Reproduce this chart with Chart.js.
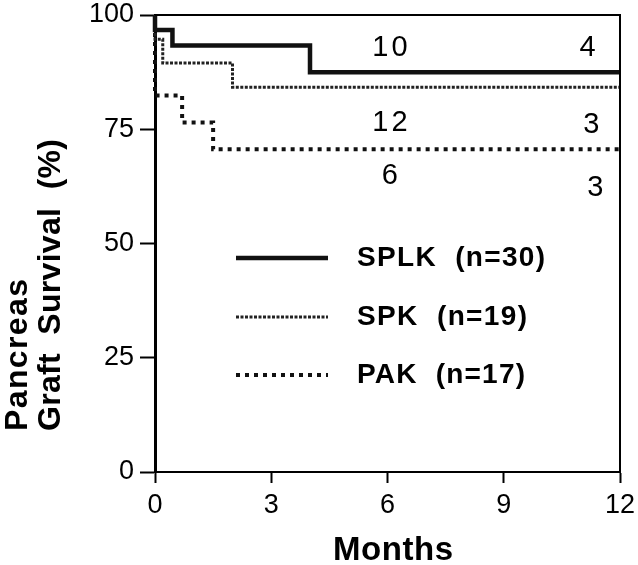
<!DOCTYPE html>
<html>
<head>
<meta charset="utf-8">
<script src="https://cdn.jsdelivr.net/npm/chart.js@4/dist/chart.umd.min.js"></script>
<style>
  html, body { margin: 0; padding: 0; background: #fff; }
  #wrap { width: 638px; height: 565px; }
</style>
</head>
<body>
<div id="wrap"><canvas id="survival-chart"></canvas></div>
<script>
// Kaplan-Meier steps (months, % surviving)
const splkMonths = [0, 0, 0.45, 4, 12];
const splkSurvival = [100, 96.7, 93.3, 87.5, 87.5];
const spkMonths = [0, 0, 0.2, 2, 12];
const spkSurvival = [100, 94.7, 89.5, 84.2, 84.2];
const pakMonths = [0, 0, 0.7, 1.5, 12];
const pakSurvival = [100, 82.4, 76.5, 70.6, 70.6];

const seriesLabels = ['SPLK  (n=30)', 'SPK  (n=19)', 'PAK  (n=17)'];

// patients at risk printed over the curves
const atRiskText = ['10', '4', '12', '3', '6', '3'];
const atRiskMonth = [6.1, 11.2, 6.1, 11.3, 6.1, 11.4];
const atRiskLevel = [92.8, 92.8, 76.4, 75.9, 64.8, 62.1];

const xTicks = [0, 3, 6, 9, 12];
const yTicks = [0, 25, 50, 75, 100];

const FONT = '"Liberation Sans", Arial, Helvetica, sans-serif';

function toPoints(xs, ys) {
  return xs.map((x, i) => ({ x: x, y: ys[i] }));
}

// stretch letter spacing so the text spans the width seen in the figure
function fitText(ctx, text, x, y, width) {
  ctx.letterSpacing = '0px';
  const w = ctx.measureText(text).width;
  const gap = Math.max((width - w) / Math.max(text.length - 1, 1), 0);
  ctx.letterSpacing = gap + 'px';
  let startX = x;
  if (ctx.textAlign === 'center') {
    startX = x - width / 2;
  }
  const keep = ctx.textAlign;
  ctx.textAlign = 'left';
  ctx.fillText(text, startX, y);
  ctx.textAlign = keep;
}

const extras = {
  id: 'extras',
  afterDraw(chart) {
    const ctx = chart.ctx;
    const area = chart.chartArea;
    const xs = chart.scales.x;
    const ys = chart.scales.y;
    ctx.save();

    // top and right frame
    ctx.strokeStyle = '#000';
    ctx.lineWidth = 2;
    ctx.beginPath();
    ctx.moveTo(area.left, area.top);
    ctx.lineTo(area.right, area.top);
    ctx.lineTo(area.right, area.bottom);
    ctx.stroke();

    // at-risk numbers
    ctx.fillStyle = '#000';
    ctx.font = '29px ' + FONT;
    ctx.letterSpacing = '3px';
    ctx.textAlign = 'center';
    ctx.textBaseline = 'middle';
    atRiskText.forEach((t, i) => {
      ctx.fillText(t, xs.getPixelForValue(atRiskMonth[i]), ys.getPixelForValue(atRiskLevel[i]));
    });

    // legend inside the plot
    const legendY = [258, 317, 375];
    const legendW = [188, 170, 168];
    chart.data.datasets.forEach((ds, i) => {
      ctx.strokeStyle = ds.borderColor;
      ctx.lineWidth = ds.borderWidth;
      ctx.setLineDash(ds.borderDash || []);
      ctx.beginPath();
      ctx.moveTo(236, legendY[i]);
      ctx.lineTo(328, legendY[i]);
      ctx.stroke();
      ctx.setLineDash([]);
      ctx.font = 'bold 28px ' + FONT;
      ctx.textAlign = 'left';
      fitText(ctx, seriesLabels[i], 357, legendY[i], legendW[i]);
    });

    // axis titles
    ctx.font = 'bold 33px ' + FONT;
    ctx.textAlign = 'center';
    fitText(ctx, 'Months', 393, 551, 120);

    ctx.font = 'bold 32px ' + FONT;
    ctx.translate(0, 431);
    ctx.rotate(-Math.PI / 2);
    ctx.textAlign = 'left';
    fitText(ctx, 'Pancreas', 0, 18, 152);
    fitText(ctx, 'Graft  Survival  (%)', 0, 51, 292);
    ctx.restore();
  }
};

new Chart(document.getElementById('survival-chart').getContext('2d'), {
  type: 'line',
  data: {
    datasets: [
      {
        label: seriesLabels[0],
        data: toPoints(splkMonths, splkSurvival),
        borderColor: '#111',
        borderWidth: 4.5,
        stepped: true,
        pointRadius: 0,
        clip: 6
      },
      {
        label: seriesLabels[1],
        data: toPoints(spkMonths, spkSurvival),
        borderColor: '#222',
        borderWidth: 3,
        borderDash: [3, 1.5],
        stepped: true,
        pointRadius: 0,
        clip: 6
      },
      {
        label: seriesLabels[2],
        data: toPoints(pakMonths, pakSurvival),
        borderColor: '#111',
        borderWidth: 4,
        borderDash: [4, 5],
        stepped: true,
        pointRadius: 0,
        clip: 6
      }
    ]
  },
  options: {
    responsive: true,
    maintainAspectRatio: false,
    animation: false,
    layout: { padding: { left: 0, right: 18, top: 15, bottom: 0 } },
    plugins: {
      legend: { display: false },
      tooltip: { enabled: false }
    },
    scales: {
      x: {
        type: 'linear',
        min: 0,
        max: 12,
        afterFit(scale) {
          scale.height = 93;
          scale.paddingLeft = 0;
          scale.paddingRight = 0;
        },
        afterBuildTicks(scale) { scale.ticks = xTicks.map(v => ({ value: v })); },
        ticks: {
          color: '#000',
          font: { family: FONT, size: 27 },
          padding: 6
        },
        grid: { drawOnChartArea: false, tickLength: 11, tickColor: '#000', tickWidth: 2 },
        border: { color: '#000', width: 2 }
      },
      y: {
        min: 0,
        max: 100,
        afterFit(scale) {
          scale.width = 155;
          scale.paddingTop = 0;
          scale.paddingBottom = 0;
        },
        afterBuildTicks(scale) { scale.ticks = yTicks.map(v => ({ value: v })); },
        ticks: {
          color: '#000',
          font: { family: FONT, size: 27 },
          padding: 6
        },
        grid: { drawOnChartArea: false, tickLength: 15, tickColor: '#000', tickWidth: 2 },
        border: { color: '#000', width: 3 }
      }
    }
  },
  plugins: [extras]
});
</script>
</body>
</html>
